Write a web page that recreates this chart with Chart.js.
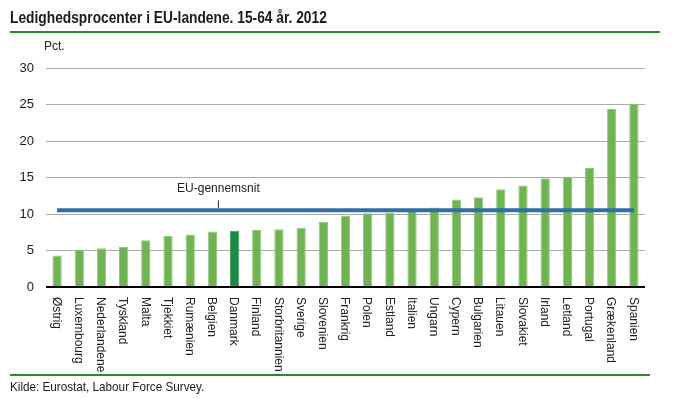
<!DOCTYPE html>
<html>
<head>
<meta charset="utf-8">
<script src="https://cdn.jsdelivr.net/npm/chart.js@4/dist/chart.umd.min.js"></script>
<style>
    body { margin: 0; background: #fff; }
    #wrap { position: relative; width: 680px; height: 399px; }
</style>
</head>
<body>
<div id="wrap"><canvas id="ledighedChart" width="680" height="399"></canvas></div>
<script>
const countries = ["Østrig", "Luxembourg", "Nederlandene", "Tyskland", "Malta", "Tjekkiet", "Rumænien",
    "Belgien", "Danmark", "Finland", "Storbritannien", "Sverige", "Slovenien", "Frankrig", "Polen",
    "Estland", "Italien", "Ungarn", "Cypern", "Bulgarien", "Litauen", "Slovakiet", "Irland", "Letland",
    "Portugal", "Grækenland", "Spanien"];
const unemployment = [4.3, 5.1, 5.3, 5.5, 6.4, 7.0, 7.2, 7.6, 7.7, 7.8, 7.9, 8.1, 8.9, 9.8, 10.1,
    10.2, 10.7, 10.9, 12.0, 12.3, 13.4, 13.9, 14.9, 15.1, 16.3, 24.4, 25.1];
const euAverage = 10.5;
const yTicks = [0, 5, 10, 15, 20, 25, 30];
const highlight = "Danmark";

const FONT = "'Liberation Sans Narrow', 'Liberation Sans', sans-serif";

const decorations = {
    id: "decorations",
    afterDraw(chart) {
        const ctx = chart.ctx;
        const x = chart.scales.x;
        const y = chart.scales.y;
        ctx.save();

        // title, squeezed a bit to look like the condensed original
        ctx.fillStyle = "#1a1a1a";
        ctx.textBaseline = "alphabetic";
        ctx.save();
        ctx.translate(10, 23);
        ctx.scale(0.81, 1);
        ctx.font = "bold 17px " + FONT;
        ctx.fillText("Ledighedsprocenter i EU-landene. 15-64 år. 2012", 0, 0);
        ctx.restore();

        ctx.strokeStyle = "#2e8b2a";
        ctx.lineWidth = 2;
        ctx.beginPath();
        ctx.moveTo(10, 32); ctx.lineTo(660, 32);
        ctx.moveTo(10, 375); ctx.lineTo(650, 375);
        ctx.stroke();

        ctx.fillStyle = "#222";
        ctx.font = "12px " + FONT;
        ctx.fillText("Pct.", 44, 50);
        ctx.save();
        ctx.translate(10, 391);
        ctx.scale(0.9, 1);
        ctx.font = "13px " + FONT;
        ctx.fillText("Kilde: Eurostat, Labour Force Survey.", 0, 0);
        ctx.restore();

        // x labels, reading top to bottom
        ctx.font = "12px " + FONT;
        ctx.textAlign = "left";
        ctx.textBaseline = "middle";
        countries.forEach((c, i) => {
            const px = x.getPixelForValue(i) - 1;
            ctx.save();
            ctx.translate(px, y.bottom + 10);
            ctx.rotate(Math.PI / 2);
            ctx.fillText(c, 0, 0);
            ctx.restore();
        });

        // EU average label
        const ly = y.getPixelForValue(euAverage);
        const lx = x.getPixelForValue(7) + 6;
        ctx.strokeStyle = "#333";
        ctx.lineWidth = 1;
        ctx.beginPath();
        ctx.moveTo(lx, ly - 10); ctx.lineTo(lx, ly - 2);
        ctx.stroke();
        ctx.textAlign = "center";
        ctx.fillText("EU-gennemsnit", lx, ly - 22);
        ctx.restore();
    }
};

new Chart(document.getElementById("ledighedChart"), {
    data: {
        labels: countries,
        datasets: [
            {
                type: "line",
                data: [
                    { x: countries[0], y: euAverage },
                    { x: countries[countries.length - 1], y: euAverage }
                ],
                borderColor: "#2f6ea6",
                borderWidth: 4,
                pointRadius: 0,
                order: 0
            },
            {
                type: "bar",
                data: unemployment,
                backgroundColor: countries.map(c => c === highlight ? "#1f8a46" : "#6fb353"),
                borderColor: countries.map(c => c === highlight ? "#3f9a5e" : "#94c97c"),
                borderWidth: 1,
                borderSkipped: "bottom",
                categoryPercentage: 1,
                barPercentage: 0.42,
                order: 1
            }
        ]
    },
    options: {
        responsive: false,
        animation: false,
        layout: { padding: { left: 0, right: 35, top: 68, bottom: 104 } },
        plugins: { legend: { display: false }, tooltip: { enabled: false } },
        scales: {
            x: {
                ticks: { display: false },
                grid: { display: false },
                border: { display: false }
            },
            y: {
                min: 0,
                max: 30,
                afterBuildTicks: scale => { scale.ticks = yTicks.map(v => ({ value: v })); },
                afterFit: scale => { scale.width = 46; },
                ticks: {
                    color: "#1a1a1a",
                    font: { family: FONT, size: 13 },
                    padding: 12
                },
                grid: {
                    color: ctx => ctx.tick.value === 0 ? "#000" : "#ababab",
                    lineWidth: ctx => ctx.tick.value === 0 ? 2 : 1,
                    drawTicks: false
                },
                border: { display: false }
            }
        }
    },
    plugins: [decorations]
});
</script>
</body>
</html>
